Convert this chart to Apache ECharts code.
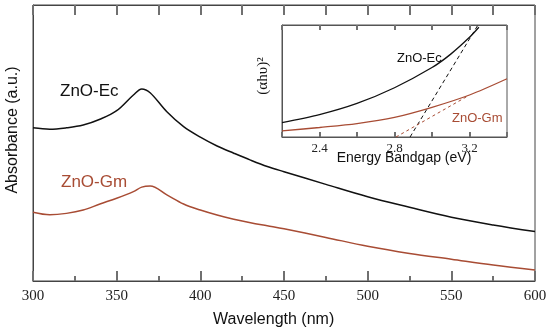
<!DOCTYPE html>
<html>
<head>
<meta charset="utf-8">
<script src="https://cdn.jsdelivr.net/npm/echarts@6/dist/echarts.min.js"></script>
<style>html,body{margin:0;padding:0;background:#fff;}#c{width:550px;height:334px;}</style>
</head>
<body>
<div id="c"></div>
<script>
// Main chart data (absorbance, arbitrary units 0..1 of plot height)
const wavelength = [300, 310, 320, 330, 340, 350, 360, 365, 370, 380, 390, 400, 410, 420, 430, 440, 450, 475, 500, 525, 550, 575, 600];
const absEc      = [0.555, 0.550, 0.555, 0.565, 0.586, 0.617, 0.674, 0.696, 0.682, 0.613, 0.559, 0.521, 0.489, 0.463, 0.438, 0.415, 0.396, 0.350, 0.305, 0.267, 0.231, 0.203, 0.179];
const absGm      = [0.249, 0.240, 0.245, 0.257, 0.279, 0.300, 0.324, 0.340, 0.344, 0.312, 0.279, 0.257, 0.239, 0.224, 0.211, 0.200, 0.189, 0.158, 0.126, 0.100, 0.079, 0.058, 0.040];
const xTicksMain = [300, 350, 400, 450, 500, 550, 600];

// Inset data ((alpha h nu)^2 vs energy, arbitrary units)
const energyEc = [2.2, 2.4, 2.6, 2.8, 3.0, 3.1, 3.2, 3.25];
const taucEc   = [0.128, 0.20, 0.30, 0.44, 0.62, 0.74, 0.89, 0.98];
const energyGm = [2.2, 2.4, 2.6, 2.8, 3.0, 3.2, 3.4];
const taucGm   = [0.054, 0.085, 0.12, 0.175, 0.265, 0.375, 0.52];
const fitEcX = [2.883, 3.245];
const fitEcY = [0, 1.0];
const fitGmX = [2.808, 3.185];
const fitGmY = [0, 0.36];
const insetTickLabels = ['2.4', '2.8', '3.2'];

const SANS = "'Liberation Sans', Arial, sans-serif";
const SERIF = "'Liberation Serif', 'Times New Roman', serif";
const RED = '#a84c34';
const AX = '#444';
const TK = {color: '#707070', width: 2};
const pairs = (xs, ys) => xs.map((x, i) => [x, ys[i]]);

const chart = echarts.init(document.getElementById('c'), null, {renderer: 'canvas'});
chart.setOption({
  animation: false,
  backgroundColor: '#fff',
  grid: [
    {left: 33, top: 5, right: 15, bottom: 53, show: true, borderColor: AX, borderWidth: 1},
    {left: 282, top: 25, width: 225, height: 112, show: true, borderColor: '#555', borderWidth: 1, backgroundColor: '#fff', z: 5}
  ],
  xAxis: [
    {type: 'value', gridIndex: 0, min: 300, max: 600, interval: 50, position: 'bottom',
     axisLine: {show: true, onZero: false, lineStyle: {color: AX, width: 1}},
     axisTick: {show: true, inside: true, length: 10, lineStyle: TK},
     minorTick: {show: true, splitNumber: 2, length: 5, lineStyle: TK},
     axisLabel: {show: true, margin: 8, fontFamily: SERIF, fontSize: 15, color: '#222',
                 formatter: v => xTicksMain.includes(v) ? String(v) : ''},
     splitLine: {show: false}},
    {type: 'value', gridIndex: 0, min: 300, max: 600, interval: 25, position: 'top',
     axisLine: {show: true, onZero: false, lineStyle: {color: AX, width: 1}},
     axisTick: {show: true, inside: true, length: 10, lineStyle: TK},
     axisLabel: {show: false}, splitLine: {show: false}},
    {type: 'value', gridIndex: 1, min: 2.2, max: 3.4, interval: 0.2, position: 'bottom', z: 6,
     axisLine: {show: true, onZero: false, lineStyle: {color: '#555', width: 1}},
     axisTick: {show: true, inside: true, length: 5, lineStyle: TK},
     axisLabel: {show: true, margin: 5, fontFamily: SERIF, fontSize: 13, color: '#222',
                 formatter: v => { const s = v.toFixed(1); return insetTickLabels.includes(s) ? s : ''; }},
     splitLine: {show: false}},
    {type: 'value', gridIndex: 1, min: 2.2, max: 3.4, interval: 0.2, position: 'top', z: 6,
     axisLine: {show: true, onZero: false, lineStyle: {color: '#555', width: 1}},
     axisTick: {show: true, inside: true, length: 5, lineStyle: TK},
     axisLabel: {show: false}, splitLine: {show: false}}
  ],
  yAxis: [
    {type: 'value', gridIndex: 0, min: 0, max: 1,
     axisLine: {show: true, onZero: false, lineStyle: {color: AX}}, axisTick: {show: false},
     axisLabel: {show: false}, splitLine: {show: false}},
    {type: 'value', gridIndex: 1, min: 0, max: 1, z: 6,
     axisLine: {show: true, onZero: false, lineStyle: {color: '#555'}}, axisTick: {show: false},
     axisLabel: {show: false}, splitLine: {show: false}}
  ],
  series: [
    {type: 'line', xAxisIndex: 0, yAxisIndex: 0, data: pairs(wavelength, absEc), smooth: 0.35,
     showSymbol: false, lineStyle: {color: '#111', width: 1.5}, z: 2},
    {type: 'line', xAxisIndex: 0, yAxisIndex: 0, data: pairs(wavelength, absGm), smooth: 0.35,
     showSymbol: false, lineStyle: {color: RED, width: 1.5}, z: 2},
    {type: 'line', xAxisIndex: 2, yAxisIndex: 1, data: pairs(energyEc, taucEc), smooth: 0.3,
     showSymbol: false, lineStyle: {color: '#111', width: 1.3}, z: 7},
    {type: 'line', xAxisIndex: 2, yAxisIndex: 1, data: pairs(energyGm, taucGm), smooth: 0.3,
     showSymbol: false, lineStyle: {color: RED, width: 1.3}, z: 7},
    {type: 'line', xAxisIndex: 2, yAxisIndex: 1, data: pairs(fitEcX, fitEcY),
     showSymbol: false, lineStyle: {color: '#111', width: 1, type: [4, 3]}, z: 7},
    {type: 'line', xAxisIndex: 2, yAxisIndex: 1, data: pairs(fitGmX, fitGmY),
     showSymbol: false, lineStyle: {color: RED, width: 1, type: [3, 3]}, z: 7}
  ],
  graphic: [
    {type: 'text', x: 213, y: 312, z: 10, style: {text: 'Wavelength (nm)', font: '16px ' + SANS, fill: '#111'}},
    {type: 'text', x: 13, y: 130, rotation: Math.PI / 2, z: 10,
     style: {text: 'Absorbance (a.u.)', font: '16px ' + SANS, fill: '#111', align: 'center', verticalAlign: 'middle'}},
    {type: 'text', x: 60, y: 91, z: 10,
     style: {text: 'ZnO-Ec', font: '17px ' + SANS, fill: '#111', verticalAlign: 'middle'}},
    {type: 'text', x: 61, y: 182, z: 10,
     style: {text: 'ZnO-Gm', font: '17px ' + SANS, fill: RED, verticalAlign: 'middle'}},
    {type: 'text', x: 404, y: 151, z: 10,
     style: {text: 'Energy Bandgap (eV)', font: '14px ' + SANS, fill: '#111', align: 'center', verticalAlign: 'top'}},
    {type: 'text', x: 263, y: 76, rotation: Math.PI / 2, z: 10,
     style: {text: '(\u03B1h\u03C5)\u00B2', font: '15px ' + SERIF, fill: '#111', align: 'center', verticalAlign: 'middle'}},
    {type: 'text', x: 397, y: 58, z: 10,
     style: {text: 'ZnO-Ec', font: '13px ' + SANS, fill: '#111', verticalAlign: 'middle'}},
    {type: 'text', x: 452, y: 118, z: 10,
     style: {text: 'ZnO-Gm', font: '13px ' + SANS, fill: RED, verticalAlign: 'middle'}}
  ]
});
</script>
</body>
</html>
